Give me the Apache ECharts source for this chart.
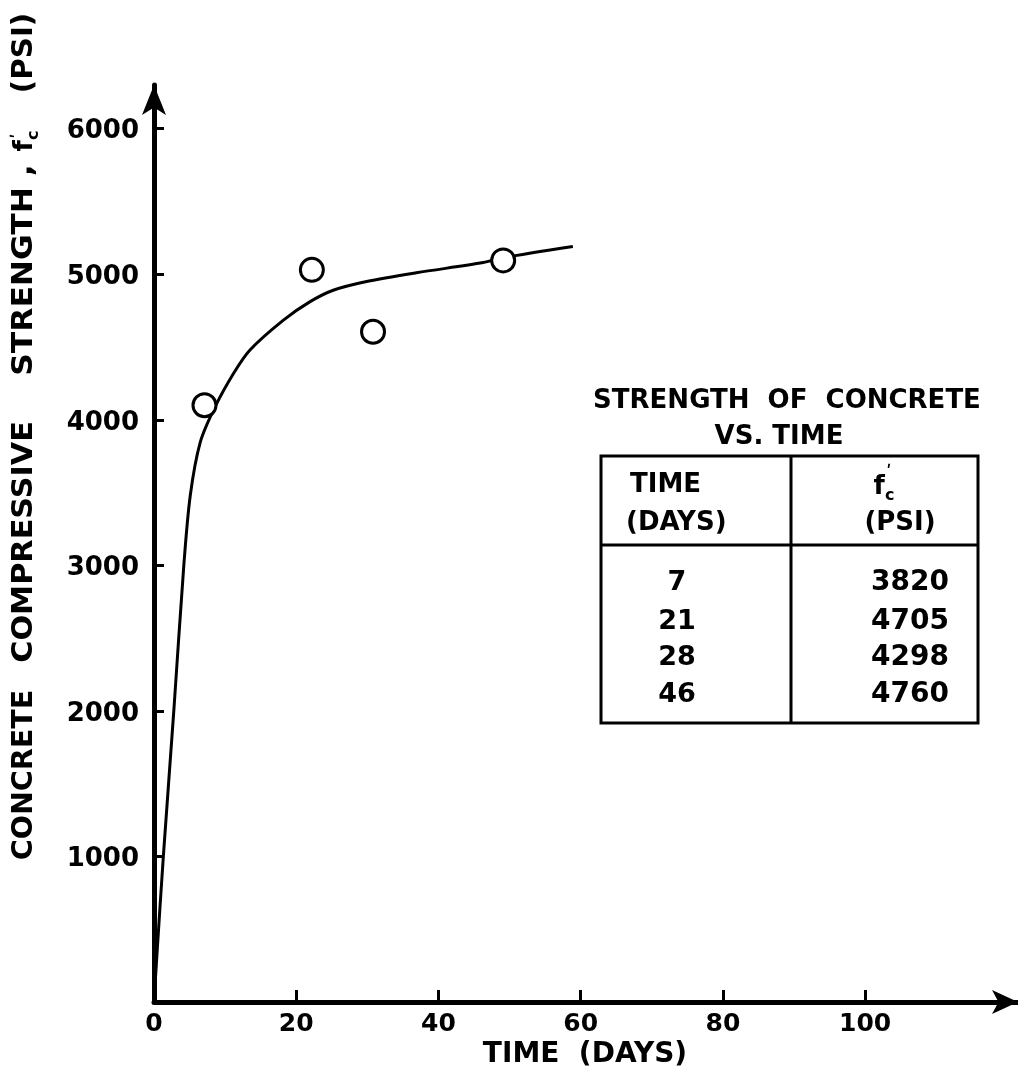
<!DOCTYPE html>
<html>
<head>
<meta charset="utf-8">
<script src="https://cdn.jsdelivr.net/npm/echarts@6/dist/echarts.min.js"></script>
<style>
  html, body { margin: 0; padding: 0; background: #fff; }
  #chart { width: 1018px; height: 1077px; }
</style>
</head>
<body>
<div id="chart"></div>
<script>
// ---- Data ----
const xTickValues = [0, 20, 40, 60, 80, 100];
const yTickValues = [1000, 2000, 3000, 4000, 5000, 6000];

// fitted strength curve
const curveDays = [0, 0.4, 1.3, 2.8, 4.2, 5.1, 6.5, 8.6, 11.2, 13.5, 18.2, 21.9, 25.2, 29.9, 36.9, 46.3, 49.1, 58.9];
const curvePsi  = [0, 315, 990, 2010, 3005, 3480, 3845, 4090, 4320, 4480, 4685, 4810, 4890, 4950, 5010, 5080, 5113, 5190];

// plotted test points
const pointDays = [7.1, 22.2, 30.8, 49.1];
const pointPsi  = [4100, 5030, 4605, 5095];

// inset table
const tableTitle1 = 'STRENGTH  OF  CONCRETE';
const tableTitle2 = 'VS. TIME';
const tableDays = ['7', '21', '28', '46'];
const tablePsi  = ['3820', '4705', '4298', '4760'];

// ---- Chart ----
const FONT = 'DejaVu Sans';
const chart = echarts.init(document.getElementById('chart'));

const curveData = curveDays.map((d, i) => [d, curvePsi[i]]);
const pointData = pointDays.map((d, i) => [d, pointPsi[i]]);

const boldFont = (s) => 'bold ' + s + 'px "' + FONT + '"';

const rowY = [583, 622, 658, 695];
const tableTexts = [];
tableDays.forEach((t, i) => {
  tableTexts.push({
    type: 'text', x: 677, y: rowY[i],
    style: { text: t, fill: '#000', font: boldFont(27), textAlign: 'center', textVerticalAlign: 'middle' }
  });
  tableTexts.push({
    type: 'text', x: 910, y: rowY[i],
    style: { text: tablePsi[i], fill: '#000', font: boldFont(28), textAlign: 'center', textVerticalAlign: 'middle' }
  });
});

const option = {
  animation: false,
  backgroundColor: '#fff',
  grid: { left: 154, right: 0, top: 85, bottom: 75 },
  xAxis: {
    type: 'value', min: 0, max: 121.5,
    axisLine: { show: true, lineStyle: { color: '#000', width: 5 }, symbol: ['none', 'arrow'], symbolSize: [18, 26] },
    axisTick: { show: true, inside: true, length: 12, lineStyle: { color: '#000', width: 3 }, customValues: xTickValues },
    axisLabel: { customValues: xTickValues, margin: 10, color: '#000', fontSize: 25, fontWeight: 'bold', fontFamily: FONT,
      formatter: (v) => String(v) },
    splitLine: { show: false }
  },
  yAxis: {
    type: 'value', min: 0, max: 6300,
    axisLine: { show: true, lineStyle: { color: '#000', width: 5 }, symbol: ['none', 'arrow'], symbolSize: [18, 30] },
    axisTick: { show: true, inside: true, length: 10, lineStyle: { color: '#000', width: 3 }, customValues: yTickValues },
    axisLabel: { customValues: yTickValues, margin: 15, color: '#000', fontSize: 26, fontWeight: 'bold', fontFamily: FONT,
      formatter: (v) => '{v|' + v + '}',
      rich: { v: { fontSize: 26, fontWeight: 'bold', fontFamily: FONT, color: '#000', padding: [6, 0, 0, 0] } } },
    splitLine: { show: false }
  },
  series: [
    {
      type: 'line', data: curveData, smooth: 0.3, showSymbol: false,
      lineStyle: { color: '#000', width: 3 }, z: 2
    },
    {
      type: 'scatter', data: pointData, symbol: 'circle', symbolSize: 23,
      itemStyle: { color: '#fff', borderColor: '#000', borderWidth: 3, opacity: 1 }, z: 3
    }
  ],
  graphic: {
    elements: [
      // x axis title
      { type: 'text', x: 585, y: 1055,
        style: { text: 'TIME  (DAYS)', fill: '#000', font: boldFont(28), textAlign: 'center', textVerticalAlign: 'middle' } },
      // y axis title (rotated, word by word)
      { type: 'text', x: 25, y: 775, rotation: Math.PI / 2, scaleX: 1.02,
        style: { text: 'CONCRETE', fill: '#000', font: boldFont(28), textAlign: 'center', textVerticalAlign: 'middle' } },
      { type: 'text', x: 25, y: 542, rotation: Math.PI / 2, scaleX: 1.08,
        style: { text: 'COMPRESSIVE', fill: '#000', font: boldFont(28), textAlign: 'center', textVerticalAlign: 'middle' } },
      { type: 'text', x: 25, y: 270, rotation: Math.PI / 2, scaleX: 1.12,
        style: { text: 'STRENGTH ,', fill: '#000', font: boldFont(28), textAlign: 'center', textVerticalAlign: 'middle' } },
      { type: 'text', x: 25, y: 141, rotation: Math.PI / 2,
        style: { text: '{f|f}{c|c}', fill: '#000', textAlign: 'center', textVerticalAlign: 'middle',
          rich: {
            f: { font: boldFont(26), fill: '#000', lineHeight: 34, verticalAlign: 'middle' },
            c: { font: boldFont(16), fill: '#000', lineHeight: 34, verticalAlign: 'bottom' }
          } } },
      { type: 'text', x: 19, y: 136, rotation: Math.PI / 2,
        style: { text: '\u02B9', fill: '#000', font: boldFont(18), textAlign: 'center', textVerticalAlign: 'middle' } },
      { type: 'text', x: 25, y: 53, rotation: Math.PI / 2, scaleX: 1.05,
        style: { text: '(PSI)', fill: '#000', font: boldFont(28), textAlign: 'center', textVerticalAlign: 'middle' } },

      // inset table title
      { type: 'text', x: 787, y: 401,
        style: { text: tableTitle1, fill: '#000', font: boldFont(26), textAlign: 'center', textVerticalAlign: 'middle' } },
      { type: 'text', x: 779, y: 437,
        style: { text: tableTitle2, fill: '#000', font: boldFont(26), textAlign: 'center', textVerticalAlign: 'middle' } },
      // table frame
      { type: 'rect', shape: { x: 601, y: 456, width: 377, height: 267 },
        style: { fill: null, stroke: '#000', lineWidth: 3 } },
      { type: 'line', shape: { x1: 791, y1: 456, x2: 791, y2: 723 },
        style: { stroke: '#000', lineWidth: 3 } },
      { type: 'line', shape: { x1: 601, y1: 545, x2: 978, y2: 545 },
        style: { stroke: '#000', lineWidth: 3 } },
      // header
      { type: 'text', x: 630, y: 485,
        style: { text: 'TIME', fill: '#000', font: boldFont(26), textAlign: 'left', textVerticalAlign: 'middle' } },
      { type: 'text', x: 626, y: 523,
        style: { text: '(DAYS)', fill: '#000', font: boldFont(26), textAlign: 'left', textVerticalAlign: 'middle' } },
      { type: 'text', x: 884, y: 487,
        style: { text: '{f|f}{c|c}', fill: '#000', textAlign: 'center', textVerticalAlign: 'middle',
          rich: {
            f: { font: boldFont(26), fill: '#000', lineHeight: 34, verticalAlign: 'middle' },
            c: { font: boldFont(16), fill: '#000', lineHeight: 34, verticalAlign: 'bottom' }
          } } },
      { type: 'text', x: 889, y: 473,
        style: { text: '\u02B9', fill: '#000', font: boldFont(18), textAlign: 'center', textVerticalAlign: 'middle' } },
      { type: 'text', x: 900, y: 523,
        style: { text: '(PSI)', fill: '#000', font: boldFont(26), textAlign: 'center', textVerticalAlign: 'middle' } }
    ].concat(tableTexts)
  }
};

chart.setOption(option);
</script>
</body>
</html>
